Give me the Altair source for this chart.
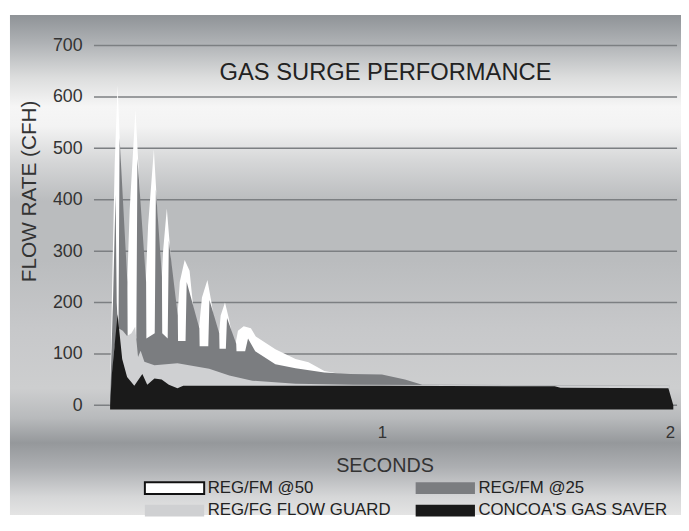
import altair as alt
import pandas as pd

FONT = "Liberation Sans"

# legend is laid out column by column, so this order gives the reference's 2x2 grid
series_names = ["REG/FM @50", "REG/FG FLOW GUARD", "REG/FM @25", "CONCOA'S GAS SAVER"]
series_colors = ["#ffffff", "#cfd0d2", "#7b7d80", "#1a1a1a"]
draw_order = ["REG/FM @50", "REG/FM @25", "REG/FG FLOW GUARD", "CONCOA'S GAS SAVER"]

# seconds / flow rate (CFH)
t_fm50 = [0.055, 0.064, 0.072, 0.082, 0.092, 0.104, 0.110,
          0.124, 0.144, 0.156, 0.170, 0.176,
          0.188, 0.208, 0.218, 0.228, 0.233,
          0.240, 0.253, 0.265, 0.280, 0.287,
          0.298, 0.315, 0.332, 0.350, 0.362,
          0.375, 0.394, 0.408, 0.424, 0.432,
          0.440, 0.455, 0.468, 0.484, 0.490,
          0.500, 0.520, 0.545, 0.562, 0.630, 0.700, 0.745, 0.800, 0.895,
          1.000, 1.100, 1.200, 2.000]
v_fm50 = [0, 260, 470, 623, 480, 200, 150,
          380, 575, 450, 210, 190,
          350, 498, 400, 240, 220,
          300, 383, 300, 170, 150,
          240, 283, 262, 160, 135,
          210, 244, 200, 140, 125,
          175, 200, 170, 125, 115,
          145, 154, 150, 134, 109, 90, 84, 67, 57,
          50, 40, 38, 38]

t_fm25 = [0.055, 0.066, 0.075, 0.079,
          0.085, 0.089, 0.116, 0.117,
          0.147, 0.151, 0.181, 0.182,
          0.211, 0.215, 0.236, 0.237,
          0.256, 0.260, 0.291, 0.292,
          0.318, 0.322, 0.366, 0.367,
          0.397, 0.401, 0.435, 0.436,
          0.458, 0.462, 0.494, 0.495,
          0.525, 0.535, 0.560, 0.630, 0.700, 0.800, 0.890, 1.000, 1.080, 1.140, 2.000]
v_fm25 = [0, 200, 410, 200,
          130, 520, 240, 130,
          130, 480, 240, 130,
          140, 420, 250, 140,
          130, 320, 175, 125,
          125, 240, 150, 115,
          115, 205, 140, 110,
          110, 170, 120, 105,
          105, 130, 105, 80, 72, 64, 61, 60, 50, 40, 38]

t_fg = [0.057, 0.070, 0.085, 0.100, 0.115, 0.130, 0.143, 0.153, 0.162, 0.175, 0.210,
        0.290, 0.400, 0.470, 0.550, 0.700, 0.900, 2.000]
v_fg = [0, 110, 150, 145, 135, 140, 153, 94, 106, 85, 78,
        82, 71, 58, 48, 42, 40, 38]

t_gs = [0.056, 0.062, 0.082, 0.098, 0.115, 0.140, 0.168, 0.185, 0.210, 0.235, 0.260,
        0.290, 0.310, 1.000, 1.600, 1.620, 1.995, 2.012]
v_gs = [0, 60, 177, 90, 55, 38, 61, 40, 52, 50, 40,
        33, 38, 38, 37, 34, 33, 0]

y_ticks = [0, 100, 200, 300, 400, 500, 600, 700]
x_ticks = [1, 2]

series_t = {"REG/FM @50": t_fm50, "REG/FM @25": t_fm25,
            "REG/FG FLOW GUARD": t_fg, "CONCOA'S GAS SAVER": t_gs}
series_v = {"REG/FM @50": v_fm50, "REG/FM @25": v_fm25,
            "REG/FG FLOW GUARD": v_fg, "CONCOA'S GAS SAVER": v_gs}

rows = []
for name in draw_order:
    for t, v in zip(series_t[name], series_v[name]):
        rows.append({"series": name, "t": t, "v": v})
df = pd.DataFrame(rows)
grid_df = pd.DataFrame({"v": y_ticks})

W, H = 590, 364

x_scale = alt.Scale(domain=[0, 2.025], nice=False, zero=False)
y_scale = alt.Scale(domain=[0, 700], nice=False)

x_axis = alt.Axis(values=x_ticks, grid=False, domain=False, ticks=False, labelFlush=False,
                  labelFont=FONT, labelFontSize=17, labelColor="#333333", labelPadding=20,
                  title="SECONDS", titleFont=FONT, titleFontSize=20, titleFontWeight="normal",
                  titleColor="#333333", titleX=294, titleY=61, titleBaseline="middle",
                  titleAlign="center", zindex=1)
y_axis = alt.Axis(values=y_ticks, grid=False, domain=False, ticks=False,
                  labelFont=FONT, labelFontSize=18, labelColor="#333333", labelPadding=12,
                  title="FLOW RATE (CFH)", titleFont=FONT, titleFontSize=21,
                  titleFontWeight="normal", titleColor="#333333", titleX=-65, titleY=147,
                  titleAngle=270, titleBaseline="middle", titleAlign="center", zindex=1)

x_enc = alt.X("t:Q", scale=x_scale, axis=x_axis)
y_enc = alt.Y("v:Q", scale=y_scale, axis=y_axis)

legend = alt.Legend(
    title=None, orient="none", legendX=73, legendY=439, columns=2,
    symbolType="M-5,-1L5,-1L5,1L-5,1Z", symbolSize=144,
    labelFont=FONT, labelFontSize=17, labelColor="#222222", labelOffset=25,
    labelLimit=300, columnPadding=20, rowPadding=2, symbolStrokeWidth=2,
    symbolStrokeColor={"expr": "datum.value === 'REG/FM @50' ? '#111111' : 'transparent'"},
)
fill_enc = alt.Fill("series:N", scale=alt.Scale(domain=series_names, range=series_colors),
                    legend=legend)

grad = alt.LinearGradient(
    gradient="linear", x1=0, x2=0, y1=0, y2=1,
    stops=[
        alt.GradientStop(offset=0.0, color="#8f9397"),
        alt.GradientStop(offset=0.055, color="#aeb1b4"),
        alt.GradientStop(offset=0.125, color="#dcdddd"),
        alt.GradientStop(offset=0.184, color="#f6f6f6"),
        alt.GradientStop(offset=0.223, color="#f3f3f3"),
        alt.GradientStop(offset=0.292, color="#d6d7d8"),
        alt.GradientStop(offset=0.372, color="#babcbe"),
        alt.GradientStop(offset=0.490, color="#babcbe"),
        alt.GradientStop(offset=0.628, color="#c7c8ca"),
        alt.GradientStop(offset=0.747, color="#cdcecf"),
        alt.GradientStop(offset=0.806, color="#b8babc"),
        alt.GradientStop(offset=0.856, color="#95989b"),
        alt.GradientStop(offset=0.905, color="#adafb2"),
        alt.GradientStop(offset=0.964, color="#d6d7d8"),
        alt.GradientStop(offset=1.0, color="#e4e4e4"),
    ],
)

bg = alt.Chart(pd.DataFrame({"k": [0]})).mark_rect(fill=grad).encode(
    x=alt.value(-85), x2=alt.value(594), y=alt.value(-31), y2=alt.value(475)
)

grid = alt.Chart(grid_df).mark_rule(color="#7c7f82", strokeWidth=1.5).encode(y=y_enc)

layers = [bg, grid]
for name in draw_order:
    base = alt.Chart(df).transform_filter(alt.datum.series == name)
    if name == "CONCOA'S GAS SAVER":
        layer = base.mark_area(interpolate="linear").encode(
            x=x_enc, y=y_enc, y2=alt.datum(-8), fill=fill_enc)
    else:
        layer = base.mark_area(interpolate="linear").encode(
            x=x_enc, y=y_enc, fill=fill_enc)
    layers.append(layer)

chart = alt.layer(*layers).properties(
    width=W, height=H,
    autosize=alt.AutoSizeParams(type="none"),
    padding={"left": 87, "top": 35, "right": 4, "bottom": 111},
    title=alt.TitleParams("GAS SURGE PERFORMANCE", font=FONT, fontSize=24,
                          fontWeight="normal", color="#222222", anchor="middle",
                          frame="group", offset=-29, dy=54, baseline="middle"),
).configure_view(stroke=None).configure(background="white")

chart.save("out.html", embed_options={"renderer": "svg", "actions": False})
